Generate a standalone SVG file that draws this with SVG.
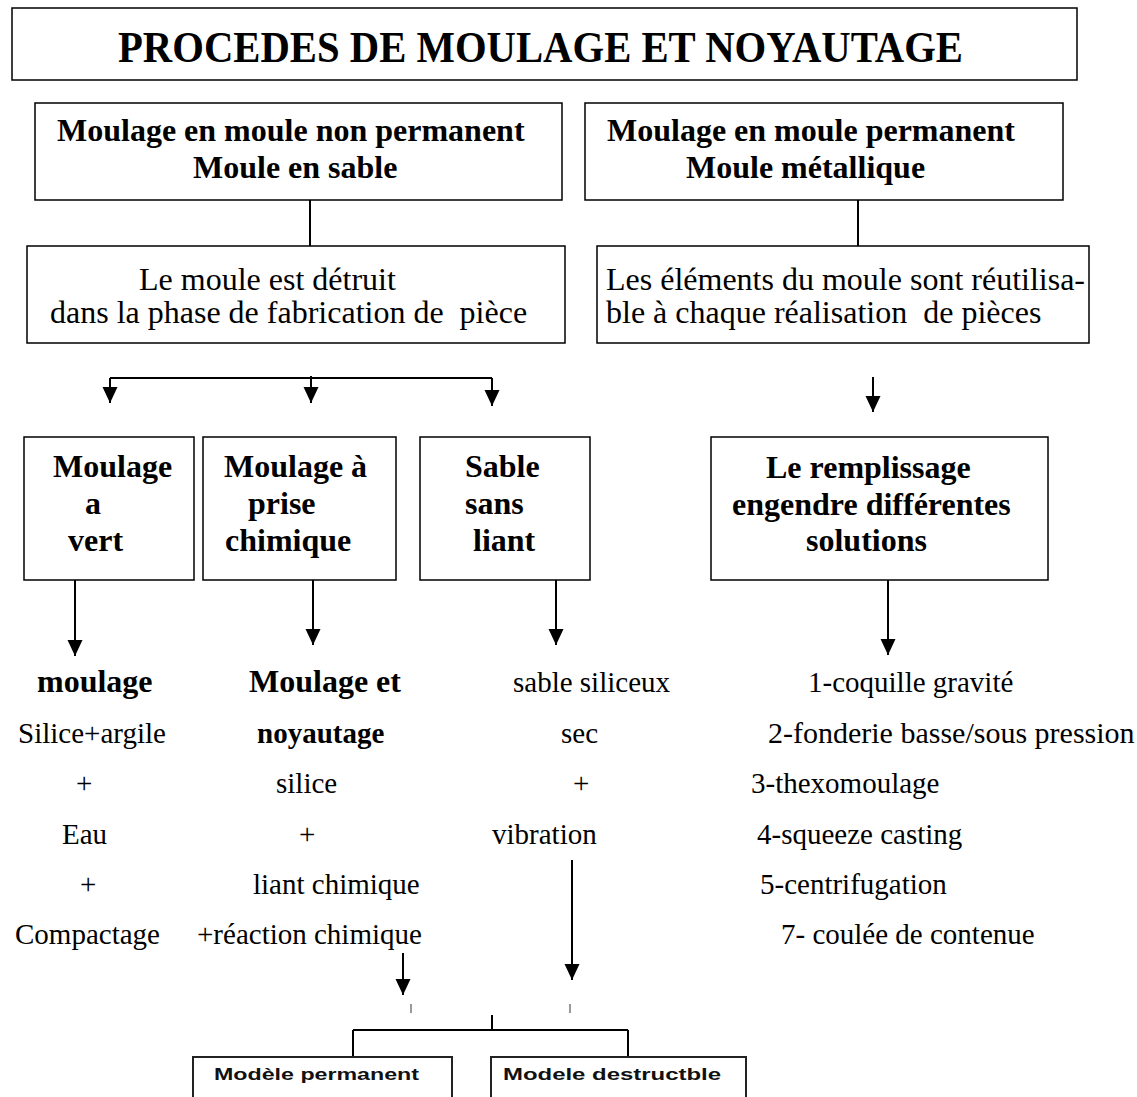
<svg xmlns="http://www.w3.org/2000/svg" width="1137" height="1097" viewBox="0 0 1137 1097">
  <defs>
    <marker id="arrow" markerWidth="16" markerHeight="18" viewBox="0 0 16 18" refX="16" refY="8" orient="auto" markerUnits="userSpaceOnUse">
      <path d="M0,0.5 L16,8 L0,15.5 Z" fill="#000"/>
    </marker>
    <style>
      .box { fill: #fff; stroke: #000; stroke-width: 1.5; }
      .sbox { fill: none; stroke: #222; stroke-width: 2; }
      .ln { fill: none; stroke: #000; stroke-width: 2; }
      .arr { fill: none; stroke: #000; stroke-width: 2; marker-end: url(#arrow); }
      .tick { fill: none; stroke: #999; stroke-width: 2; }
      .title { font-family: "Liberation Serif", "Times New Roman", serif; font-weight: bold; font-size: 45px; fill: #000; }
      .b { font-family: "Liberation Serif", "Times New Roman", serif; font-weight: bold; font-size: 32px; fill: #000; }
      .r { font-family: "Liberation Serif", "Times New Roman", serif; font-size: 32px; fill: #000; }
      .t { font-family: "Liberation Serif", "Times New Roman", serif; font-size: 29px; fill: #000; }
      .s { font-family: "Liberation Sans", Arial, sans-serif; font-weight: bold; font-size: 16px; fill: #111; }
    </style>
  </defs>

  <rect width="1137" height="1097" fill="#fff"/>

  <!-- connectors -->
  <g id="connectors">
    <line class="ln" x1="310" y1="200" x2="310" y2="246"/>
    <line class="ln" x1="858" y1="200" x2="858" y2="246"/>
    <!-- three-way split under the sand mould box -->
    <line class="ln" x1="110" y1="378" x2="492" y2="378"/>
    <line class="arr" x1="110" y1="378" x2="110" y2="403"/>
    <line class="arr" x1="311" y1="376" x2="311" y2="403"/>
    <line class="arr" x1="492" y1="378" x2="492" y2="406"/>
    <line class="arr" x1="873" y1="377" x2="873" y2="412"/>
    <!-- arrows out of the process boxes -->
    <line class="arr" x1="75" y1="580" x2="75" y2="656"/>
    <line class="arr" x1="313" y1="580" x2="313" y2="645"/>
    <line class="arr" x1="556" y1="580" x2="556" y2="645"/>
    <line class="arr" x1="888" y1="580" x2="888" y2="655"/>
    <!-- arrows down to the pattern types -->
    <line class="arr" x1="403" y1="953" x2="403" y2="995"/>
    <line class="arr" x1="572" y1="860" x2="572" y2="980"/>
    <line class="tick" x1="411" y1="1004" x2="411" y2="1013"/>
    <line class="tick" x1="570" y1="1004" x2="570" y2="1013"/>
    <line class="ln" x1="492" y1="1015" x2="492" y2="1030"/>
    <line class="ln" x1="353" y1="1030" x2="628" y2="1030"/>
    <line class="ln" x1="353" y1="1030" x2="353" y2="1057"/>
    <line class="ln" x1="628" y1="1030" x2="628" y2="1057"/>
  </g>

  <g id="title">
    <rect class="box" x="12" y="8" width="1065" height="72"/>
    <text class="title" x="118" y="62" textLength="845" lengthAdjust="spacingAndGlyphs">PROCEDES DE MOULAGE ET NOYAUTAGE</text>
  </g>

  <g id="moule-non-permanent">
    <rect class="box" x="35" y="103" width="527" height="97"/>
    <text class="b" x="57" y="141">Moulage en moule non permanent</text>
    <text class="b" x="193" y="178">Moule en sable</text>
  </g>

  <g id="moule-permanent">
    <rect class="box" x="585" y="103" width="478" height="97"/>
    <text class="b" x="607" y="141">Moulage en moule permanent</text>
    <text class="b" x="686" y="178">Moule métallique</text>
  </g>

  <g id="moule-detruit">
    <rect class="box" x="27" y="246" width="538" height="97"/>
    <text class="r" x="139" y="290" xml:space="preserve">Le moule est détruit</text>
    <text class="r" x="50" y="323" xml:space="preserve">dans la phase de fabrication de  pièce</text>
  </g>

  <g id="moule-reutilisable">
    <rect class="box" x="597" y="246" width="492" height="97"/>
    <text class="r" x="606" y="290">Les éléments du moule sont réutilisa-</text>
    <text class="r" x="606" y="323" xml:space="preserve">ble à chaque réalisation  de pièces</text>
  </g>

  <g id="moulage-a-vert">
    <rect class="box" x="24" y="437" width="170" height="143"/>
    <text class="b" x="53" y="477">Moulage</text>
    <text class="b" x="85" y="514">a</text>
    <text class="b" x="68" y="551">vert</text>
  </g>

  <g id="prise-chimique">
    <rect class="box" x="203" y="437" width="193" height="143"/>
    <text class="b" x="224" y="477">Moulage à</text>
    <text class="b" x="248" y="514">prise</text>
    <text class="b" x="225" y="551">chimique</text>
  </g>

  <g id="sable-sans-liant">
    <rect class="box" x="420" y="437" width="170" height="143"/>
    <text class="b" x="465" y="477">Sable</text>
    <text class="b" x="465" y="514">sans</text>
    <text class="b" x="473" y="551">liant</text>
  </g>

  <g id="remplissage">
    <rect class="box" x="711" y="437" width="337" height="143"/>
    <text class="b" x="766" y="478">Le remplissage</text>
    <text class="b" x="732" y="515">engendre différentes</text>
    <text class="b" x="806" y="551">solutions</text>
  </g>

  <!-- green sand column -->
  <g id="col-vert">
    <text class="b" x="37" y="692">moulage</text>
    <text class="t" x="18" y="743">Silice+argile</text>
    <text class="t" x="76" y="793">+</text>
    <text class="t" x="62" y="844">Eau</text>
    <text class="t" x="80" y="894">+</text>
    <text class="t" x="15" y="944">Compactage</text>
  </g>

  <!-- chemically bonded column -->
  <g id="col-chimique">
    <text class="b" x="249" y="692">Moulage et</text>
    <text class="b" x="257" y="743" style="font-size:29px">noyautage</text>
    <text class="t" x="276" y="793">silice</text>
    <text class="t" x="299" y="844">+</text>
    <text class="t" x="253" y="894">liant chimique</text>
    <text class="t" x="197" y="944">+réaction chimique</text>
  </g>

  <!-- unbonded sand column -->
  <g id="col-sans-liant">
    <text class="t" x="513" y="692">sable siliceux</text>
    <text class="t" x="561" y="743">sec</text>
    <text class="t" x="573" y="793">+</text>
    <text class="t" x="492" y="844">vibration</text>
  </g>

  <!-- permanent mould solutions -->
  <g id="col-solutions">
    <text class="t" x="808" y="692">1-coquille gravité</text>
    <text class="t" x="768" y="743" style="font-size:30px">2-fonderie basse/sous pression</text>
    <text class="t" x="751" y="793">3-thexomoulage</text>
    <text class="t" x="757" y="844">4-squeeze casting</text>
    <text class="t" x="760" y="894">5-centrifugation</text>
    <text class="t" x="781" y="944">7- coulée de contenue</text>
  </g>

  <g id="modele-permanent">
    <path class="sbox" d="M193,1097 V1057 H452 V1097"/>
    <text class="s" x="214" y="1080" textLength="205" lengthAdjust="spacingAndGlyphs">Modèle permanent</text>
  </g>

  <g id="modele-destructible">
    <path class="sbox" d="M491,1097 V1057 H746 V1097"/>
    <text class="s" x="503" y="1080" textLength="218" lengthAdjust="spacingAndGlyphs">Modele destructble</text>
  </g>
</svg>
